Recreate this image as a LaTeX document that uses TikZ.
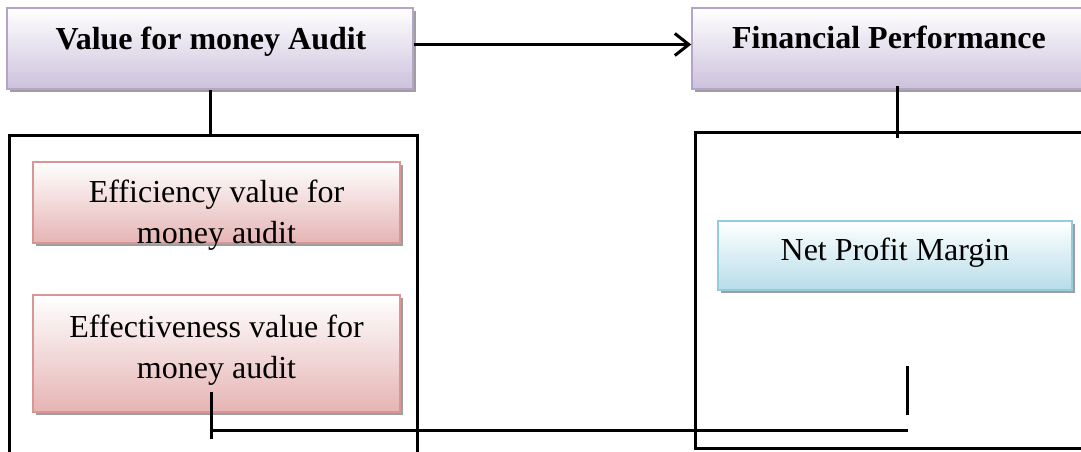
\documentclass[tikz,border=0pt]{standalone}
\usepackage{fontspec}
\setmainfont{Liberation Serif}
\usetikzlibrary{arrows.meta,shadows}
\definecolor{purpB}{RGB}{180,164,202}
\definecolor{purpF}{RGB}{204,193,220}
\definecolor{redB}{RGB}{217,150,148}
\definecolor{redF}{RGB}{230,180,180}
\definecolor{bluB}{RGB}{147,205,221}
\definecolor{bluF}{RGB}{183,221,232}
\tikzset{
  base/.style={line width=1.5pt, inner sep=0pt,
    drop shadow={shadow xshift=3pt, shadow yshift=-3pt, fill=black!38, opacity=1}},
  purpbox/.style={base, draw=purpB, top color=white, bottom color=purpF},
  redbox/.style={base, draw=redB, top color=white, bottom color=redF},
  blubox/.style={base, draw=bluB, top color=white, bottom color=bluF},
  txt/.style={inner sep=0pt, align=center, font=\fontsize{32}{41}\selectfont},
  btxt/.style={txt, font=\fontsize{32}{41}\selectfont\bfseries},
  blk/.style={line width=3pt, draw=black}
}
\begin{document}
\begin{tikzpicture}[x=1pt,y=-1pt]
\clip (0,0) rectangle (1081,451);
\fill[white] (0,0) rectangle (1081,451);
% top boxes
\node[purpbox, minimum width=406pt, minimum height=81pt] (vfm) at (210,48.5) {};
\node[btxt, anchor=base] (vfmt) at (211,49) {Value for money Audit};
\node[purpbox, minimum width=394pt, minimum height=81pt] (fp) at (889,48.5) {};
\node[btxt, anchor=base] (fpt) at (889,48) {Financial Performance};
% inner boxes
\node[redbox, minimum width=367pt, minimum height=81pt] (eff1) at (216.5,202.5) {};
\node[txt] (eff1t) at (216.5,215) {Efficiency value for\\money audit};
\node[redbox, minimum width=367pt, minimum height=117pt] (eff2) at (216.5,353.5) {};
\node[txt] (eff2t) at (216.5,350.5) {Effectiveness value for\\money audit};
\node[blubox, minimum width=354pt, minimum height=69pt] (npm) at (895,255.5) {};
\node[txt, anchor=base] (npmt) at (895,260) {Net Profit Margin};
% coordinates
\coordinate (lt) at (210,135);
\coordinate (lbl) at (9,455);
\coordinate (ltl) at (9,135);
\coordinate (ltr) at (417,135);
\coordinate (lbr) at (417,455);
\coordinate (rtl) at (695,132);
\coordinate (rtr) at (1090,132);
\coordinate (rbl) at (695,448);
\coordinate (rbr) at (1090,448);
\coordinate (fps) at (897,86);
\coordinate (fpe) at (897,138);
\coordinate (ea) at (211,392);
\coordinate (eb) at (211,439);
\coordinate (ha) at (211,430);
\coordinate (hb) at (908,430);
\coordinate (ra) at (907,366);
\coordinate (rb) at (907,415);
% arrow
\draw[blk, -{Straight Barb[length=14pt,width=22pt,line width=3pt]}] ([yshift=4pt]vfm.east) -- ([yshift=4pt]fp.west);
% containers
\draw[blk] (lbl) -- (ltl) -- (ltr) -- (lbr);
\draw[blk] (rtr) -- (rtl) -- (rbl) -- (rbr);
% connectors
\draw[blk] (vfm.south) -- (lt);
\draw[blk] (fps) -- (fpe);
\draw[blk] (ea) -- (eb);
\draw[blk] (ha) -- (hb);
\draw[blk] (ra) -- (rb);
\end{tikzpicture}
\end{document}
